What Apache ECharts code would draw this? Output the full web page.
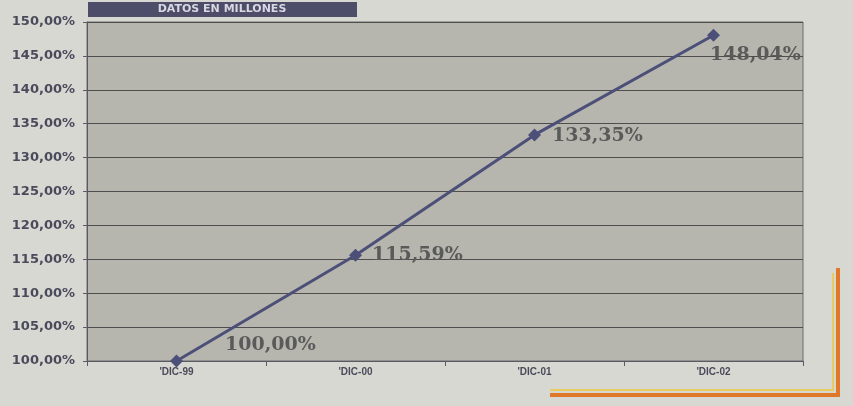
<!DOCTYPE html>
<html>
<head>
<meta charset="utf-8">
<script src="https://cdn.jsdelivr.net/npm/echarts@6/dist/echarts.min.js"></script>
<style>
  html, body { margin: 0; padding: 0; background: #d8d8d2; }
  #main { width: 853px; height: 406px; }
</style>
</head>
<body>
<div id="main"></div>
<script>
// datos del grafico
let categorias = ["'DIC-99", "'DIC-00", "'DIC-01", "'DIC-02"]
let valores = [100.00, 115.59, 133.35, 148.04]
let etiquetas = ['100,00%', '115,59%', '133,35%', '148,04%']
let yMin = 100
let yMax = 150
let yPaso = 5

// desplazamiento de cada etiqueta respecto al punto
let desplaz = [[38, -16], [6, 0], [7, 1], [-14, 20]]

let myChart = echarts.init(document.getElementById('main'))

myChart.setOption({
    backgroundColor: '#d8d8d2',
    animation: false,
    grid: {
        left: 87, right: 50, top: 22, bottom: 45,
        show: true,
        backgroundColor: '#b6b6ae',
        borderColor: '#6a6a6a',
        borderWidth: 1
    },
    graphic: [
        // recuadro del titulo
        {
            type: 'rect',
            shape: { x: 88, y: 2, width: 269, height: 15 },
            style: { fill: '#4d4d6a' }
        },
        {
            type: 'text',
            x: 222, y: 9,
            style: {
                text: 'DATOS EN MILLONES',
                fill: '#d8d8e2',
                font: 'bold 11px "DejaVu Sans", sans-serif',
                align: 'center',
                verticalAlign: 'middle'
            }
        },
        // marco naranja
        {
            type: 'polyline',
            shape: { points: [[550, 395], [838, 395], [838, 268]] },
            style: { stroke: '#e0782a', lineWidth: 4, fill: null }
        },
        {
            type: 'polyline',
            shape: { points: [[550, 390], [833, 390], [833, 273]] },
            style: { stroke: '#e8cc60', lineWidth: 2, fill: null }
        }
    ],
    xAxis: {
        type: 'category',
        data: categorias,
        boundaryGap: true,
        axisLine: { lineStyle: { color: '#5a5a66', width: 1 } },
        axisTick: { show: true, lineStyle: { color: '#5a5a66' } },
        axisLabel: {
            color: '#4a4a5c',
            fontSize: 10,
            fontWeight: 'bold',
            fontFamily: '"Liberation Sans", Arial',
            margin: 6
        },
        splitLine: { show: false }
    },
    yAxis: {
        type: 'value',
        min: yMin,
        max: yMax,
        interval: yPaso,
        axisLine: { show: true, lineStyle: { color: '#5a5a66' } },
        axisTick: { show: true, length: 4, lineStyle: { color: '#5a5a66' } },
        axisLabel: {
            color: '#4a4a5c',
            fontSize: 13,
            fontWeight: 'bold',
            fontFamily: '"DejaVu Sans", sans-serif',
            margin: 12,
            formatter: function (v) {
                return v.toFixed(2).replace('.', ',') + '%'
            }
        },
        splitLine: { show: true, lineStyle: { color: '#4e4e4e', width: 1 } }
    },
    series: [
        {
            type: 'line',
            data: valores.map(function (v, i) {
                return {
                    value: v,
                    label: { offset: desplaz[i] }
                }
            }),
            symbol: 'diamond',
            symbolSize: 13,
            lineStyle: { color: '#4c5078', width: 3 },
            itemStyle: { color: '#4c5078' },
            label: {
                show: true,
                position: 'right',
                distance: 4,
                color: '#5a5a5a',
                fontSize: 19,
                fontWeight: 'bold',
                fontFamily: '"DejaVu Serif", serif',
                formatter: function (p) {
                    return etiquetas[p.dataIndex]
                }
            }
        }
    ]
})
</script>
</body>
</html>
